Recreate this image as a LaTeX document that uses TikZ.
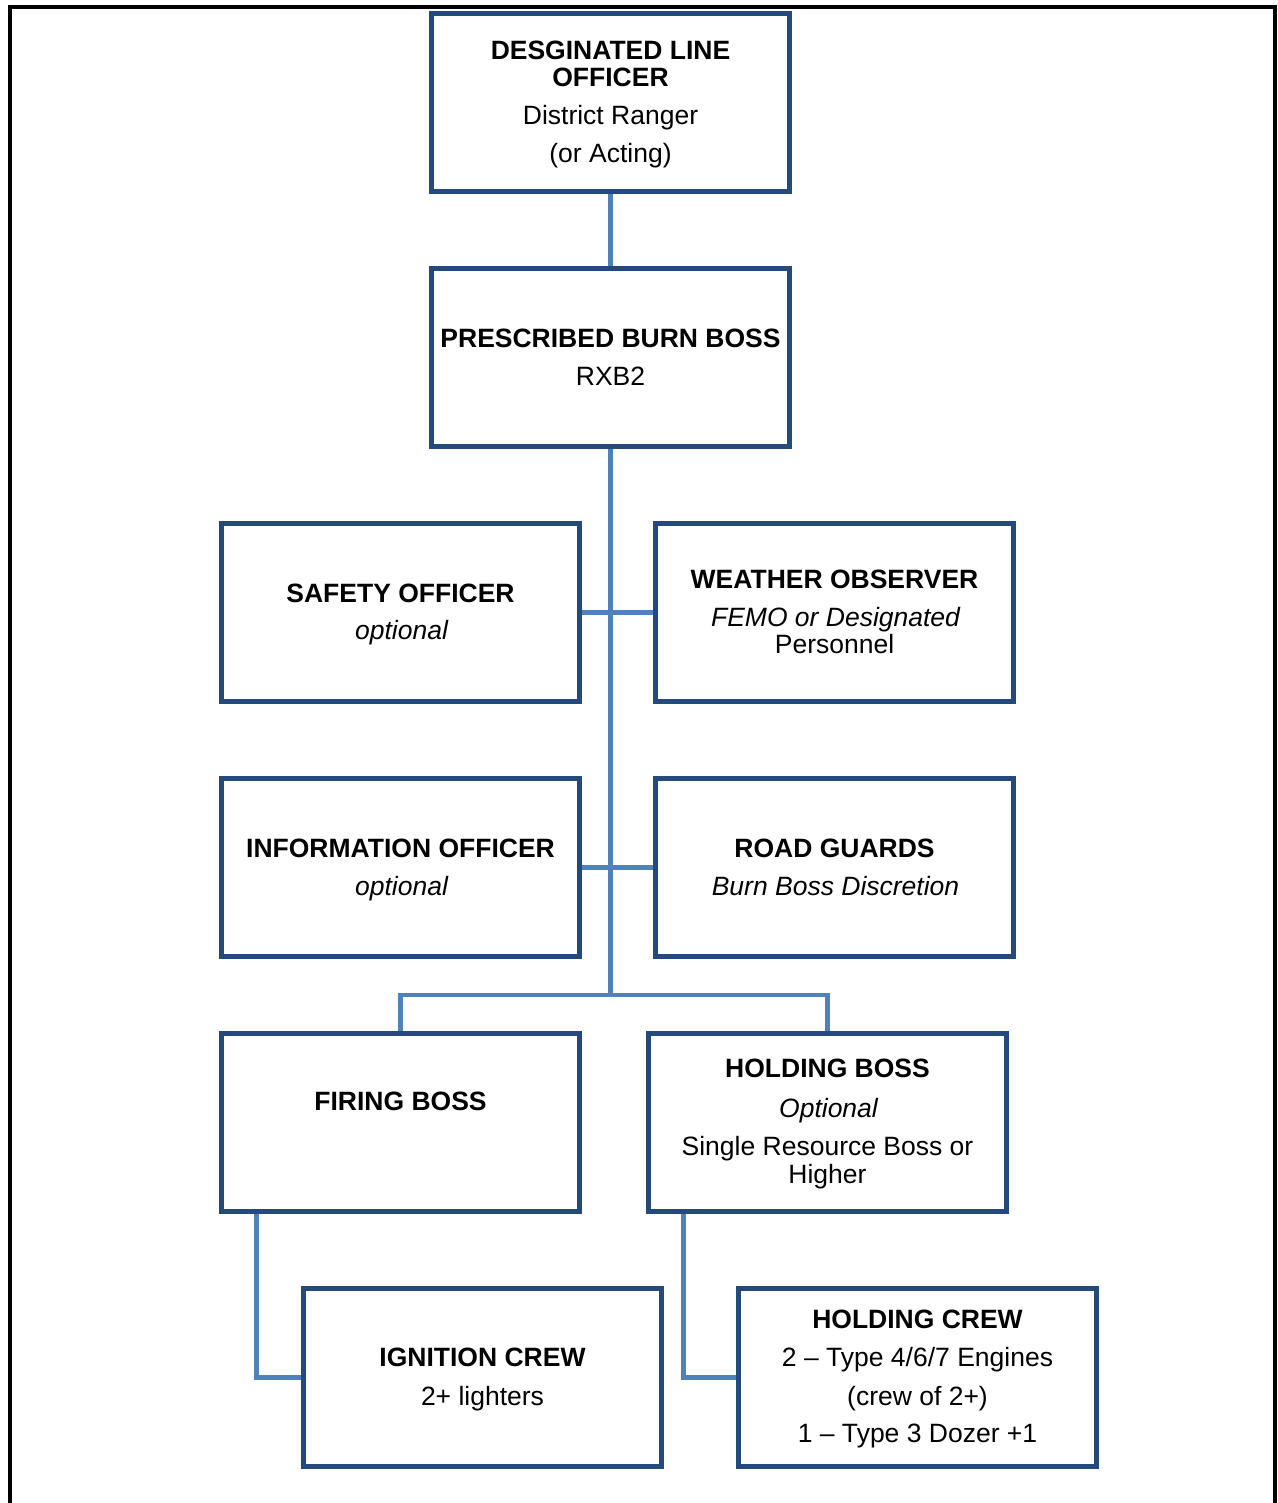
\documentclass[tikz,border=0pt]{standalone}
\usepackage{fontspec}
\setmainfont{Liberation Sans}
\definecolor{boxblue}{RGB}{36,74,125}
\definecolor{lineblue}{RGB}{79,129,189}
\tikzset{
  orgbox/.style={draw=boxblue, line width=4.5pt, fill=white, minimum width=358pt,
    minimum height=178pt, inner sep=0pt},
  link/.style={draw=lineblue, line width=4.5pt},
  titletext/.style={anchor=base, font=\fontsize{26.5}{28}\selectfont\bfseries},
  plaintext/.style={anchor=base, font=\fontsize{26.5}{28}\selectfont},
  ittext/.style={anchor=base, font=\fontsize{26.5}{28}\selectfont\itshape}
}
\begin{document}
\begin{tikzpicture}[x=1pt, y=-1pt]
        \useasboundingbox (0,0) rectangle (1277,1503);
        % Frame
        \draw[line width=4pt] (10,1503) -- (10,7) -- (1275,7) -- (1275,1503);

        % Boxes
        \node[orgbox] (dlo) at (610.5, 102.5) {};
        \node[orgbox] (burnboss) at (610.5, 357.5) {};
        \node[orgbox] (safety) at (400.5, 612.5) {};
        \node[orgbox] (weather) at (834.5, 612.5) {};
        \node[orgbox] (info) at (400.5, 867.5) {};
        \node[orgbox] (road) at (834.5, 867.5) {};
        \node[orgbox] (firing) at (400.5, 1122.5) {};
        \node[orgbox] (holdboss) at (827.5, 1122.5) {};
        \node[orgbox] (ignition) at (482.5, 1377.5) {};
        \node[orgbox] (holdcrew) at (917.5, 1377.5) {};
        \coordinate (split) at (610.5, 995);

        % Connectors
        \draw[link] (dlo) -- (burnboss); \draw[link] (burnboss) -- (split);
        \draw[link] (safety) -- (weather); \draw[link] (info) -- (road);
        \draw[link] (firing) |- (split) -| (holdboss);
        \draw[link] ([xshift=37pt]firing.south west) |- (ignition);
        \draw[link] ([xshift=37pt]holdboss.south west) |- (holdcrew);

        % Texts
        \node[titletext] (dlo-a) at (610.5, 60) {DESGINATED LINE};
        \node[titletext] (dlo-b) at (610.5, 87) {OFFICER};
        \node[plaintext] (dlo-c) at (610.5, 125) {District Ranger};
        \node[plaintext] (dlo-d) at (610.5, 163) {(or Acting)};

        \node[titletext] (burnboss-a) at (610.5, 347) {PRESCRIBED BURN BOSS};
        \node[plaintext] (burnboss-b) at (610.5, 385) {RXB2};

        \node[titletext] (safety-a) at (400.5, 602) {SAFETY OFFICER};
        \node[ittext] (safety-b) at (401.5, 639) {optional};

        \node[titletext] (weather-a) at (834.5, 588) {WEATHER OBSERVER};
        \node[ittext] (weather-b) at (835.5, 626) {FEMO or Designated};
        \node[plaintext] (weather-c) at (834.5, 653) {Personnel};

        \node[titletext] (info-a) at (400.5, 857) {INFORMATION OFFICER};
        \node[ittext] (info-b) at (401.5, 895) {optional};

        \node[titletext] (road-a) at (834.5, 857) {ROAD GUARDS};
        \node[ittext] (road-b) at (835.5, 895) {Burn Boss Discretion};

        \node[titletext] (firing-a) at (400.5, 1110) {FIRING BOSS};

        \node[titletext] (holdboss-a) at (827.5, 1077) {HOLDING BOSS};
        \node[ittext] (holdboss-b) at (828.5, 1117) {Optional};
        \node[plaintext] (holdboss-c) at (827.5, 1155) {Single Resource Boss or};
        \node[plaintext] (holdboss-d) at (827.5, 1183) {Higher};

        \node[titletext] (ignition-a) at (482.5, 1366) {IGNITION CREW};
        \node[plaintext] (ignition-b) at (482.5, 1405) {2+ lighters};

        \node[titletext] (holdcrew-a) at (917.5, 1328) {HOLDING CREW};
        \node[plaintext] (holdcrew-b) at (917.5, 1366) {2 -- Type 4/6/7 Engines};
        \node[plaintext] (holdcrew-c) at (917.5, 1405) {(crew of 2+)};
        \node[plaintext] (holdcrew-d) at (917.5, 1442) {1 -- Type 3 Dozer +1};
\end{tikzpicture}
\end{document}
